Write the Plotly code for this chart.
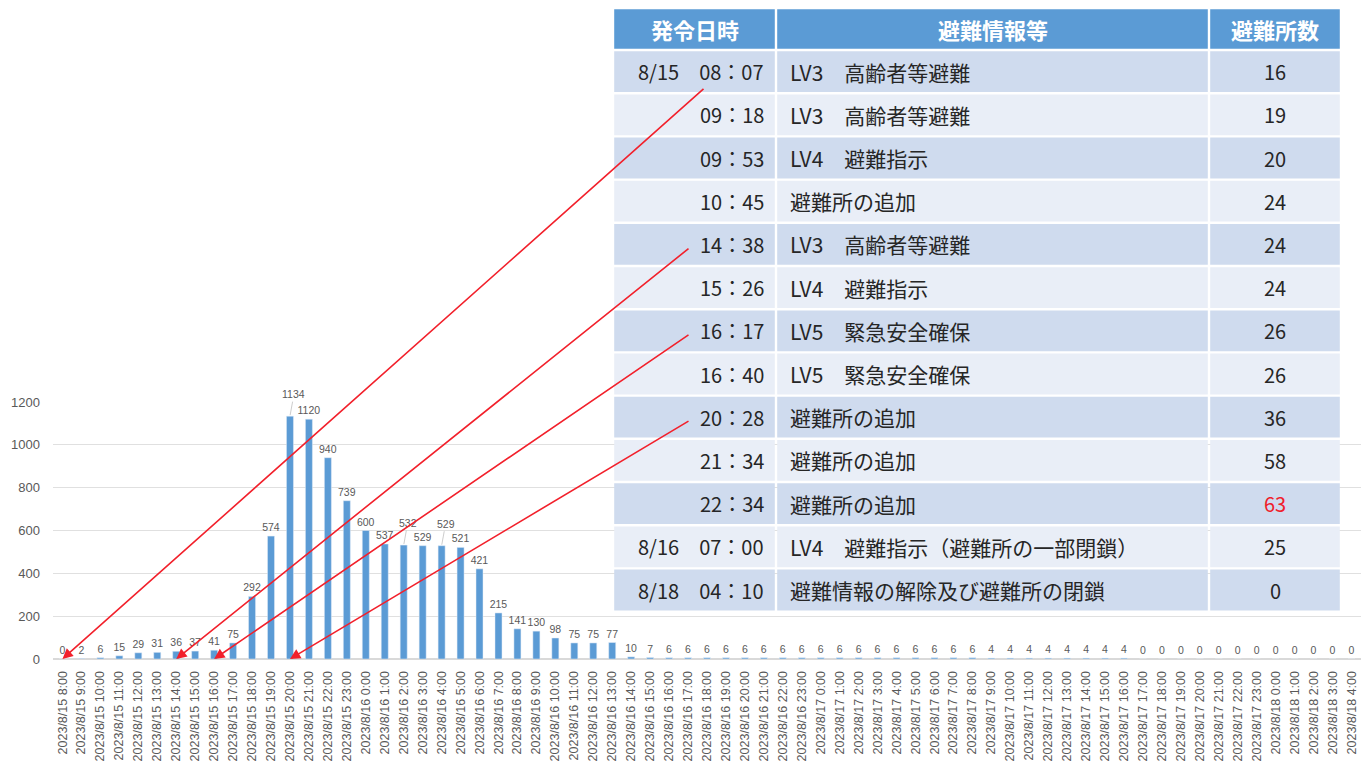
import plotly.graph_objects as go

# ---------------- data ----------------
hours_label = (
    [f"2023/8/15 {h}:00" for h in range(8, 24)]
    + [f"2023/8/16 {h}:00" for h in range(0, 24)]
    + [f"2023/8/17 {h}:00" for h in range(0, 24)]
    + [f"2023/8/18 {h}:00" for h in range(0, 5)]
)
evacuees = [
    0, 2, 6, 15, 29, 31, 36, 37, 41, 75, 292, 574, 1134, 1120, 940, 739,
    600, 537, 532, 529, 529, 521, 421, 215, 141, 130, 98, 75, 75, 77, 10, 7,
    6, 6, 6, 6, 6, 6, 6, 6,
    6, 6, 6, 6, 6, 6, 6, 6, 6, 4, 4, 4, 4, 4, 4, 4, 4, 0, 0, 0, 0, 0, 0, 0,
    0, 0, 0, 0, 0,
]
# labels lifted above neighbours with a leader line (as in the source chart)
raised_labels = ["2023/8/15 20:00", "2023/8/16 2:00", "2023/8/16 4:00"]

tbl_header = ["発令日時", "避難情報等", "避難所数"]
tbl_time = [
    "8/15　08：07", "09：18", "09：53", "10：45", "14：38", "15：26", "16：17",
    "16：40", "20：28", "21：34", "22：34", "8/16　07：00", "8/18　04：10",
]
tbl_info = [
    "LV3　高齢者等避難", "LV3　高齢者等避難", "LV4　避難指示", "避難所の追加",
    "LV3　高齢者等避難", "LV4　避難指示", "LV5　緊急安全確保", "LV5　緊急安全確保",
    "避難所の追加", "避難所の追加", "避難所の追加",
    "LV4　避難指示（避難所の一部閉鎖）", "避難情報の解除及び避難所の閉鎖",
]
tbl_shelters = [16, 19, 20, 24, 24, 24, 26, 26, 36, 58, 63, 25, 0]
highlight_row = 10  # 63 shown in red

# arrows: table row -> hour category
arrow_rows = [0, 4, 6, 8]
arrow_targets = ["2023/8/15 8:00", "2023/8/15 14:00", "2023/8/15 16:00", "2023/8/15 20:00"]

# ---------------- geometry (pixels) ----------------
W, H = 1367, 773
ML, MR, MT, MB = 53, 6, 8, 114
plot_w = W - ML - MR
plot_h = H - MT - MB
bar_area_h = 257  # pixel height for 0..1200
y_max = 1200

col_edges = [613, 776, 1209, 1341]
col_align = ["right", "left", "center"]
tbl_top = 8
header_h = 42
row_h = 43.2
gap = 1.2

HEADER_BG = "#5B9BD5"
ROW_ODD = "#CFDBEE"
ROW_EVEN = "#E9EEF7"
TXT = "#262626"
TXT_RED = "#F0202A"
LBL = "#595959"


def px_x(p):
    return (p - ML) / plot_w


def px_y(p):
    return (H - MB - p) / plot_h


fig = go.Figure()

bar_text = ["" if c in raised_labels else str(v) for c, v in zip(hours_label, evacuees)]
fig.add_trace(go.Bar(
    x=hours_label, y=evacuees,
    marker=dict(color="#5B9BD5"),
    text=bar_text, textposition="outside",
    textfont=dict(size=10.5, color=LBL, family="Liberation Sans"),
    constraintext="none",
    cliponaxis=False,
))

shapes = []
annotations = []

for c in raised_labels:
    v = evacuees[hours_label.index(c)]
    annotations.append(dict(
        x=c, y=v, xref="x", yref="y", text=str(v),
        font=dict(size=10.5, color=LBL, family="Liberation Sans"),
        showarrow=True, arrowhead=0, arrowwidth=0.8, arrowcolor="#BFBFBF",
        ax=4, ay=-22, standoff=1,
    ))


def add_row(y0, y1, fill, texts, fonts, body):
    for c in range(3):
        x0, x1 = col_edges[c], col_edges[c + 1]
        shapes.append(dict(
            type="rect", xref="paper", yref="paper", layer="above",
            x0=px_x(x0 + gap), x1=px_x(x1 - gap),
            y0=px_y(y1 - gap), y1=px_y(y0 + gap),
            fillcolor=fill, line=dict(width=0),
        ))
        al = col_align[c] if body else "center"
        if al == "right":
            tx, xa = x1 - 10, "right"
        elif al == "left":
            tx, xa = x0 + 12, "left"
        else:
            tx, xa = (x0 + x1) / 2, "center"
        annotations.append(dict(
            x=px_x(tx), y=px_y((y0 + y1) / 2), xref="paper", yref="paper",
            xanchor=xa, yanchor="middle", showarrow=False,
            text=texts[c], font=fonts[c],
        ))


hfont = dict(size=22, color="white", family="Noto Sans CJK JP")
add_row(tbl_top, tbl_top + header_h, HEADER_BG,
        [f"<b>{h}</b>" for h in tbl_header], [hfont, hfont, hfont], False)

for i in range(len(tbl_time)):
    y0 = tbl_top + header_h + row_h * i
    y1 = y0 + row_h
    fill = ROW_ODD if i % 2 == 0 else ROW_EVEN
    tfont = dict(size=20, color=TXT, family="Noto Sans CJK JP")
    ifont = dict(size=21, color=TXT, family="Noto Sans CJK JP")
    nfont = dict(size=20, color=TXT_RED if i == highlight_row else TXT,
                 family="Noto Sans CJK JP")
    add_row(y0, y1, fill, [tbl_time[i], tbl_info[i], str(tbl_shelters[i])],
            [tfont, ifont, nfont], True)

# arrows from table rows to bars
cat_step = plot_w / len(hours_label)
zero_y = H - MB
tail_dx = [92, 77, 77, 77]
tail_dy = [16, 3, 3, 3]
for k, (r, tgt) in enumerate(zip(arrow_rows, arrow_targets)):
    idx = hours_label.index(tgt)
    head_x = ML + cat_step * (idx + 0.5)
    row_center = tbl_top + header_h + row_h * (r + 0.5)
    tx = col_edges[0] + tail_dx[k]
    ty = row_center + tail_dy[k]
    annotations.append(dict(
        x=tgt, y=0, xref="x", yref="y",
        ax=tx - head_x, ay=ty - zero_y,
        axref="pixel", ayref="pixel",
        showarrow=True, arrowhead=2, arrowsize=1.3, arrowwidth=1.6,
        arrowcolor="#F2202B", text="",
    ))

fig.update_layout(
    width=W, height=H,
    margin=dict(l=ML, r=MR, t=MT, b=MB, pad=0),
    paper_bgcolor="white", plot_bgcolor="white",
    showlegend=False,
    bargap=0.63,
    font=dict(family="Liberation Sans", color=LBL),
    shapes=shapes,
    annotations=annotations,
    xaxis=dict(
        type="category", tickangle=-90, automargin=False,
        tickfont=dict(size=12.5, color=LBL, family="Liberation Sans"),
        showgrid=False, showline=True, linecolor="#D9D9D9", linewidth=1,
        ticks="", ticklabelstandoff=6,
    ),
    yaxis=dict(
        domain=[0, bar_area_h / plot_h], range=[0, y_max], dtick=200,
        automargin=False,
        tickfont=dict(size=13, color=LBL, family="Liberation Sans"),
        showgrid=True, gridcolor="#E0E0E0", gridwidth=1,
        zeroline=True, zerolinecolor="#D9D9D9", showline=False,
        ticks="", ticklabelstandoff=12,
    ),
)

fig.write_html("out.html")
